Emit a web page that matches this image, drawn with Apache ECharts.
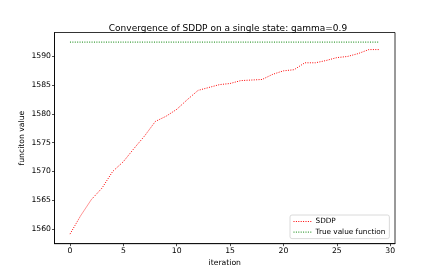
<!DOCTYPE html>
<html>
<head>
<meta charset="utf-8">
<script src="https://cdn.jsdelivr.net/npm/echarts@6/dist/echarts.min.js"></script>
<style>
html,body{margin:0;padding:0;background:#fff;}
#c{width:439px;height:274px;}
</style>
</head>
<body>
<div id="c"></div>
<script>
// ---- data ----
const iterations = [0,1,2,3,4,5,6,7,8,9,10,11,12,13,14,15,16,17,18,19,20,21,22,23,24,25,26,27,28,29];
const sddpValues = [1559.1,1562.3,1565.1,1567.1,1570.0,1571.7,1574.0,1576.2,1578.7,1579.6,1580.8,1582.5,1584.1,1584.6,1585.1,1585.3,1585.8,1585.9,1586.0,1586.9,1587.5,1587.7,1588.9,1588.9,1589.3,1589.8,1590.0,1590.5,1591.2,1591.2];
const trueValues = [1592.5,1592.5,1592.5,1592.5,1592.5,1592.5,1592.5,1592.5,1592.5,1592.5,1592.5,1592.5,1592.5,1592.5,1592.5,1592.5,1592.5,1592.5,1592.5,1592.5,1592.5,1592.5,1592.5,1592.5,1592.5,1592.5,1592.5,1592.5,1592.5,1592.5];
const xTicks = [0,5,10,15,20,25,30];
const yTicks = [1560,1565,1570,1575,1580,1585,1590];
const titleText = 'Convergence of SDDP on a single state: gamma=0.9';
const xName = 'iteration';
const yName = 'funciton value';
const seriesNames = ['SDDP','True value function'];

const FONT = 'DejaVu Sans';
const chart = echarts.init(document.getElementById('c'), null, {renderer:'canvas'});
const pair = (xs, ys) => xs.map((x,i)=>[x, ys[i]]);

chart.setOption({
  animation:false,
  backgroundColor:'#fff',
  title:{
    text:titleText, left:223, textAlign:'center', top:19,
    textStyle:{fontFamily:FONT,fontSize:9,fontWeight:'normal',color:'#000'}
  },
  grid:{left:54.5, right:44, top:32.5, bottom:30.3, show:true, borderColor:'#000', borderWidth:0.8, backgroundColor:'transparent'},
  legend:{
    orient:'vertical', left:290, top:215,
    padding:[3,4,3,3], itemGap:3.6, itemWidth:19, itemHeight:8,
    borderColor:'#d0d0d0', borderWidth:0.8, borderRadius:2, backgroundColor:'rgba(255,255,255,0.8)',
    itemStyle:{opacity:0},
    lineStyle:{width:1},
    textStyle:{fontFamily:FONT,fontSize:7.3,color:'#000',padding:[0,0,0,-2]},
    data:seriesNames
  },
  xAxis:{
    type:'value', min:-1.45, max:30.45,
    name:xName, nameLocation:'middle', nameGap:15.5, nameMoveOverlap:false,
    nameTextStyle:{fontFamily:FONT,fontSize:7.7,color:'#000'},
    axisLine:{show:true,onZero:false,lineStyle:{color:'#000',width:0.8}},
    axisTick:{show:true,length:2.5,inside:false,customValues:xTicks,lineStyle:{color:'#000',width:0.7}},
    axisLabel:{fontFamily:FONT,fontSize:7.7,color:'#000',margin:3.5,customValues:xTicks},
    splitLine:{show:false}
  },
  yAxis:{
    type:'value', min:1557.43, max:1594.17,
    name:yName, nameLocation:'middle', nameGap:28, nameRotate:90, nameMoveOverlap:false,
    nameTextStyle:{fontFamily:FONT,fontSize:7.7,color:'#000'},
    axisLine:{show:true,onZero:false,lineStyle:{color:'#000',width:0.8}},
    axisTick:{show:true,length:2.5,inside:false,customValues:yTicks,lineStyle:{color:'#000',width:0.7}},
    axisLabel:{fontFamily:FONT,fontSize:7.7,color:'#000',margin:3.5,customValues:yTicks,formatter:v=>String(v)},
    splitLine:{show:false}
  },
  series:[
    {name:seriesNames[0], type:'line', data:pair(iterations,sddpValues), symbol:'none',
     lineStyle:{color:'#ff0000',width:1,type:[1,1.4]}, itemStyle:{color:'#ff0000'}},
    {name:seriesNames[1], type:'line', data:pair(iterations,trueValues), symbol:'none',
     lineStyle:{color:'#008000',width:1,type:[1,1.4]}, itemStyle:{color:'#008000'}}
  ]
});
</script>
</body>
</html>
